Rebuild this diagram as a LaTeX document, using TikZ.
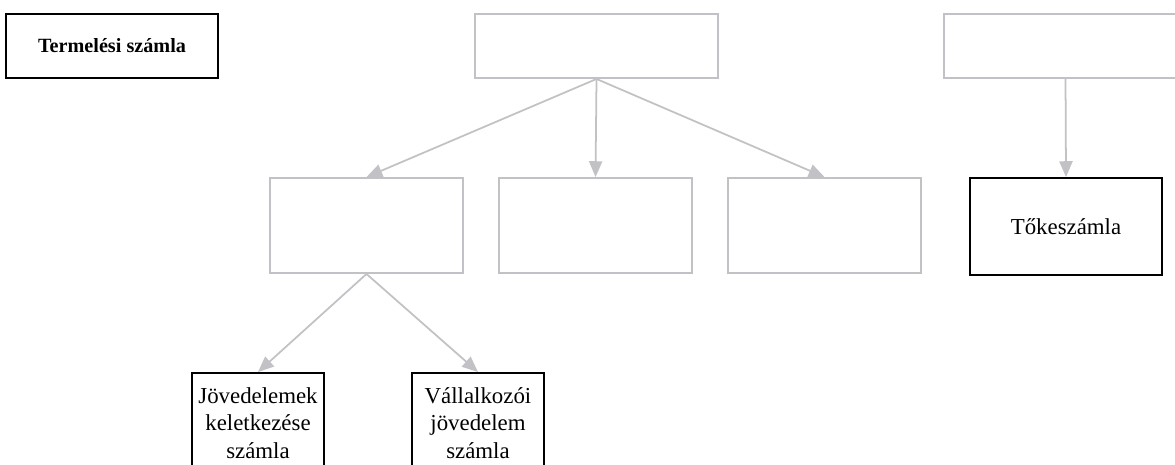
\documentclass[tikz,border=0pt]{standalone}
\usepackage{fontspec}
\setmainfont{Liberation Serif}
\usetikzlibrary{arrows.meta,positioning}
\definecolor{LineGray}{HTML}{C2C2C6}
\tikzset{
  account node/.style={draw=black,line width=1.1pt,align=center,
    font=\fontsize{13}{15.6}\selectfont,inner sep=2pt},
  blank node/.style={draw=LineGray,line width=1.1pt,inner sep=0pt},
  flow arrow/.style={-{Triangle[length=9pt,width=7.5pt]},draw=LineGray,line width=1pt}
}

\begin{document}
\begin{tikzpicture}[x=0.02cm,y=-0.02cm]
  \useasboundingbox (0,0) rectangle (1175,464);
  \clip (0,0) rectangle (1175,464);
  % top row
  \node[account node,minimum width=4.24cm,minimum height=1.28cm,font=\fontsize{11.5}{14}\selectfont\bfseries] (termeles) at (112,46) {Termelési számla};
  \node[blank node,minimum width=4.86cm,minimum height=1.28cm] (topmid) at (596.5,46) {};
  \node[blank node,minimum width=4.86cm,minimum height=1.28cm] (topright) at (1065.5,46) {};
  % middle row
  \foreach \x/\name in {366.5/sub1,595.5/sub2,824.5/sub3}{
    \node[blank node,minimum width=3.86cm,minimum height=1.9cm] (\name) at (\x,225.5) {};
  }
  \node[account node,minimum width=3.84cm,minimum height=1.94cm] (toke) at (1066,226.5) {Tőkeszámla};
  % bottom row
  \node[account node,text width=2.5cm,minimum height=2cm] (jov) at (258,423) {Jövedelemek\\keletkezése\\számla};
  \node[account node,text width=2.5cm,minimum height=2cm] (vall) at (478,423) {Vállalkozói\\jövedelem\\számla};
  % arrows
  \foreach \target in {sub1,sub2,sub3}{
    \draw[flow arrow] (topmid.south) -- (\target.north);
  }
  \draw[flow arrow] (topright.south) -- (toke.north);
  \draw[flow arrow] (sub1.south) -- (jov.north);
  \draw[flow arrow] (sub1.south) -- (vall.north);
\end{tikzpicture}
\end{document}
